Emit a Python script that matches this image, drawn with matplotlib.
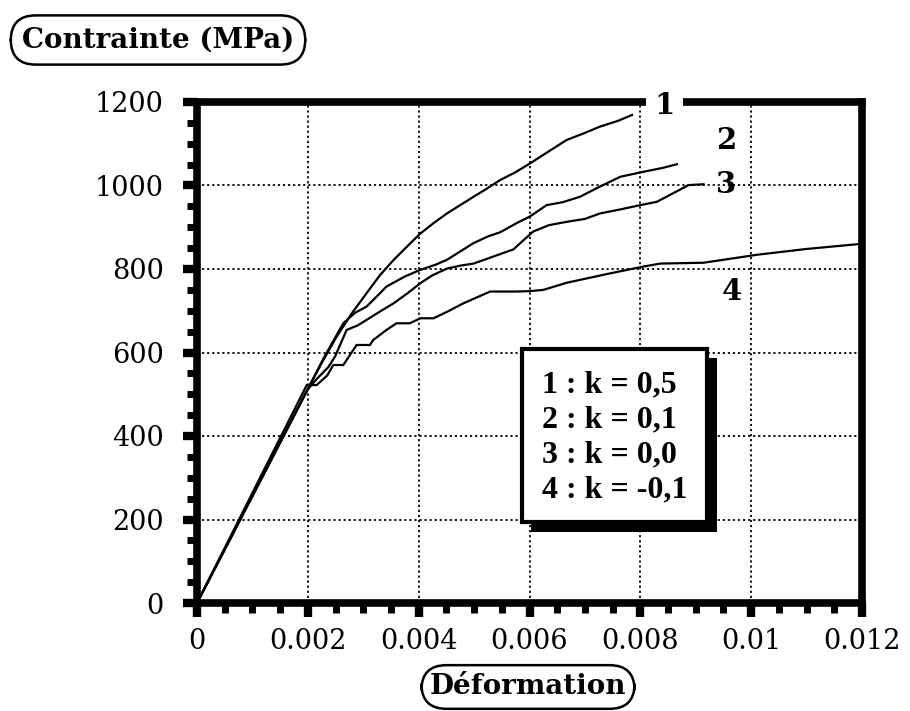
import matplotlib
matplotlib.use("Agg")
import matplotlib.pyplot as plt
from matplotlib.patches import Rectangle
from matplotlib.ticker import MultipleLocator

# ---- data ----
eps1 = [0, 0.00199, 0.00225, 0.00252, 0.00280, 0.00306, 0.00330, 0.00355, 0.00380,
        0.00403, 0.00427, 0.00451, 0.00475, 0.00499, 0.00520, 0.00547, 0.00575,
        0.00601, 0.00635, 0.00667, 0.00700, 0.00727, 0.00760, 0.00785]
sig1 = [0, 510, 575, 638, 695, 742, 785, 822, 855,
        885, 910, 933, 953, 973, 990, 1013, 1032,
        1053, 1082, 1109, 1126, 1141, 1155, 1169]

eps2 = [0, 0.00199, 0.00230, 0.00264, 0.00285, 0.00306, 0.00325, 0.00342, 0.00375,
        0.00403, 0.00430, 0.00451, 0.00475, 0.00499, 0.00525, 0.00547, 0.00577,
        0.00601, 0.00631, 0.00660, 0.00691, 0.00725, 0.00764, 0.00806, 0.00840, 0.00866]
sig2 = [0, 510, 590, 670, 695, 710, 735, 758, 782,
        798, 810, 822, 842, 862, 878, 888, 910,
        926, 953, 960, 973, 996, 1021, 1033, 1042, 1051]

eps3 = [0, 0.00199, 0.00215, 0.00237, 0.00249, 0.00270, 0.00290, 0.00306, 0.00330,
        0.00355, 0.00380, 0.00403, 0.00425, 0.00451, 0.00475, 0.00499, 0.00535,
        0.00571, 0.00590, 0.00607, 0.00635, 0.00667, 0.00700, 0.00727, 0.00765,
        0.00800, 0.00830, 0.00860, 0.00887, 0.00914]
sig3 = [0, 510, 535, 565, 590, 654, 665, 678, 698,
        718, 742, 766, 785, 801, 808, 813, 830,
        847, 870, 890, 905, 913, 920, 933, 943,
        953, 961, 982, 1001, 1003]

eps4 = [0, 0.00198, 0.00216, 0.00235, 0.00246, 0.00264, 0.00288, 0.00312, 0.00318,
        0.00342, 0.00360, 0.00384, 0.00403, 0.00427, 0.00455, 0.00481, 0.00529,
        0.00575, 0.00601, 0.00625, 0.00667, 0.00740, 0.00806, 0.00836, 0.00914,
        0.01010, 0.01100, 0.01197]
sig4 = [0, 522, 522, 545, 570, 570, 618, 618, 630,
        654, 670, 670, 682, 682, 700, 718, 746,
        746, 747, 750, 767, 788, 806, 813, 815,
        834, 848, 860]

curves = [(eps1, sig1), (eps2, sig2), (eps3, sig3), (eps4, sig4)]
curve_labels = ["1", "2", "3", "4"]
label_pos = [(0.00843, 1192), (0.00955, 1107), (0.00955, 1002), (0.00966, 746)]
legend_lines = ["1 : k = 0,5", "2 : k = 0,1", "3 : k = 0,0", "4 : k = -0,1"]

x_ticks = [0, 0.002, 0.004, 0.006, 0.008, 0.01, 0.012]
x_ticklabels = ["0", "0.002", "0.004", "0.006", "0.008", "0.01", "0.012"]
y_ticks = [0, 200, 400, 600, 800, 1000, 1200]
y_ticklabels = ["0", "200", "400", "600", "800", "1000", "1200"]

W, H = 910, 711
fig = plt.figure(figsize=(W / 100, H / 100), dpi=100)
fig.patch.set_facecolor("white")


def fx(px):
    return px / W


def fy(py):
    return 1 - py / H


ax = fig.add_axes([fx(197), fy(603), fx(862) - fx(197), fy(102) - fy(603)])
ax.set_xlim(0, 0.012)
ax.set_ylim(0, 1200)

for e, s in curves:
    ax.plot(e, s, color="black", lw=1.6, solid_joinstyle="miter", zorder=3)

# grid
ax.set_xticks(x_ticks)
ax.set_yticks(y_ticks)
ax.grid(True, which="major", color="black", linestyle=(0, (1.2, 1.6)), lw=1.3)
ax.xaxis.set_minor_locator(MultipleLocator(0.0005))
ax.yaxis.set_minor_locator(MultipleLocator(50))

ax.set_xticklabels(x_ticklabels, fontfamily="DejaVu Serif", fontsize=19.5)
ax.set_yticklabels(y_ticklabels, fontfamily="DejaVu Serif", fontsize=19.5)
ax.tick_params(which="major", direction="out", length=10, width=6,
               top=False, right=False)
ax.tick_params(axis="x", which="major", pad=8)
ax.tick_params(axis="y", which="major", pad=14)
ax.tick_params(which="minor", direction="out", length=7, width=5,
               top=False, right=False)

for sp in ax.spines.values():
    sp.set_linewidth(5.5)
    sp.set_capstyle("projecting")

# curve labels
for (xl, yl), lab in zip(label_pos, curve_labels):
    bb = dict(facecolor="white", edgecolor="none", pad=6) if lab == "1" else None
    ax.text(xl, yl, lab, ha="center", va="center", fontsize=21,
            fontweight="bold", fontfamily="DejaVu Serif", bbox=bb, zorder=6,
            clip_on=False)

# legend box with shadow (figure pixel coordinates)
shadow = Rectangle((fx(531), fy(532)), fx(717) - fx(531), fy(358) - fy(532),
                   transform=fig.transFigure, facecolor="black", edgecolor="none",
                   zorder=7)
box = Rectangle((fx(522), fy(522)), fx(707) - fx(522), fy(349) - fy(522),
                transform=fig.transFigure, facecolor="white", edgecolor="black",
                lw=3, zorder=8)
ax.add_patch(shadow)
ax.add_patch(box)
for i, line in enumerate(legend_lines):
    fig.text(fx(542), fy(385 + i * 35), line, ha="left", va="center",
             fontsize=23, fontweight="bold", fontfamily="Liberation Serif", zorder=9)

# axis titles in rounded boxes
fig.text(fx(158), fy(40), "Contrainte (MPa)", ha="center", va="center",
         fontsize=20, fontweight="bold", fontfamily="DejaVu Serif",
         bbox=dict(boxstyle="round,pad=0.4,rounding_size=0.9", facecolor="white",
                   edgecolor="black", lw=1.8))
fig.text(fx(528), fy(687), "Déformation", ha="center", va="center",
         fontsize=20, fontweight="bold", fontfamily="DejaVu Serif",
         bbox=dict(boxstyle="round,pad=0.3,rounding_size=0.9", facecolor="white",
                   edgecolor="black", lw=1.8))

fig.savefig("out.png", dpi=100)
